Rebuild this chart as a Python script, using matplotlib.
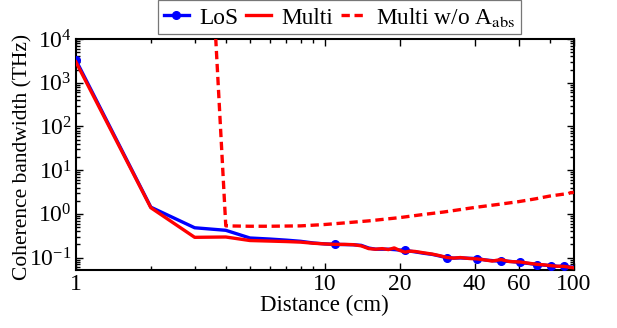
import matplotlib
matplotlib.use("Agg")
import matplotlib.pyplot as plt
from matplotlib.ticker import FixedLocator, NullFormatter, LogLocator

plt.rcParams['font.family'] = ['Liberation Serif', 'DejaVu Serif']
plt.rcParams['mathtext.fontset'] = 'stix'

# Distance samples (cm)
dist = [1, 2, 3, 4, 5, 6, 7, 8, 9, 10, 11, 12, 13, 14, 15, 16, 17, 18, 19, 20,
        21, 22, 23, 25, 27, 29, 31, 33, 35, 38, 41, 44, 47, 51, 55, 61, 66, 71,
        76, 81, 86, 91, 96, 100]

# Coherence bandwidth (THz), line-of-sight only
bw_los = [3300, 1.42, 0.48, 0.42, 0.28, 0.265, 0.25, 0.235, 0.215, 0.205,
          0.20, 0.198, 0.196, 0.19, 0.165, 0.155, 0.155, 0.155, 0.152, 0.148,
          0.15, 0.14, 0.135, 0.125, 0.118, 0.108, 0.098, 0.097, 0.098, 0.096,
          0.095, 0.088, 0.085, 0.082, 0.082, 0.077, 0.073, 0.069, 0.067, 0.065,
          0.063, 0.063, 0.061, 0.06]

# Coherence bandwidth (THz), multipath
bw_multi = [3000, 1.38, 0.29, 0.295, 0.245, 0.238, 0.232, 0.225, 0.212, 0.205,
            0.20, 0.20, 0.197, 0.185, 0.16, 0.155, 0.16, 0.152, 0.166, 0.145,
            0.133, 0.14, 0.138, 0.128, 0.12, 0.11, 0.10, 0.097, 0.10, 0.095,
            0.093, 0.088, 0.083, 0.09, 0.081, 0.079, 0.074, 0.07, 0.068, 0.065,
            0.063, 0.063, 0.06, 0.058]

# Multipath without molecular absorption
dist_noabs = [3, 4, 5, 6, 8, 10, 12, 15, 20, 25, 30, 40, 50, 60, 70, 80, 90, 95, 97, 100]
bw_noabs = [1e13, 0.53, 0.52, 0.52, 0.53, 0.57, 0.62, 0.69, 0.82, 0.97, 1.1,
            1.4, 1.65, 1.9, 2.2, 2.55, 2.8, 2.9, 3.05, 3.1]

marker_dist = [1, 11, 21, 31, 41, 51, 61, 71, 81, 91]
x_major = [1, 10, 20, 40, 60, 100]
x_minor = [2, 3, 4, 5, 6, 7, 8, 9, 80]

fig = plt.figure(figsize=(6.17, 3.28), dpi=100)
ax = fig.add_axes([0.123, 0.177, 0.807, 0.704])

mk = [dist.index(d) for d in marker_dist]
ax.plot(dist, bw_los, color='#0000ff', lw=2.4, marker='o', markersize=5.5,
        markevery=mk, label='LoS', zorder=3)
ax.plot(dist, bw_multi, color='#ff0000', lw=2.4, label='Multi', zorder=4)
ax.plot(dist_noabs, bw_noabs, color='#ff0000', lw=2.4, ls=(0, (2.5, 1.4)),
        label=r'Multi w/o A$_{\mathrm{abs}}$', zorder=4)

ax.set_xscale('log')
ax.set_yscale('log')
ax.set_xlim(1, 100)
ax.set_ylim(0.052, 1e4)

ax.xaxis.set_major_locator(FixedLocator(x_major))
ax.xaxis.set_minor_locator(FixedLocator(x_minor))
ax.xaxis.set_minor_formatter(NullFormatter())
ax.set_xticklabels([str(v) for v in x_major])
ax.yaxis.set_major_locator(LogLocator(base=10, numticks=10))
ax.yaxis.set_minor_locator(LogLocator(base=10, subs=range(2, 10), numticks=20))
ax.yaxis.set_minor_formatter(NullFormatter())

ax.tick_params(which='both', direction='in', top=True, right=True,
               labelsize=17, width=1.0)
ax.tick_params(which='major', length=5, pad=3)
ax.tick_params(which='minor', length=3)
for s in ax.spines.values():
    s.set_linewidth(1.5)

ax.set_xlabel('Distance (cm)', fontsize=16.5, labelpad=0)
ax.set_ylabel('Coherence bandwidth (THz)', fontsize=15.5)
ax.yaxis.set_label_coords(-0.088, 0.49)

leg = ax.legend(loc='lower center', bbox_to_anchor=(0.53, 1.0), ncol=3,
                fontsize=16.8, frameon=True, fancybox=False, edgecolor='#555555',
                handlelength=1.05, handletextpad=0.45, columnspacing=0.35,
                borderpad=0.25, borderaxespad=0.2)
leg.get_frame().set_linewidth(0.9)

fig.savefig('out.png', dpi=100)
